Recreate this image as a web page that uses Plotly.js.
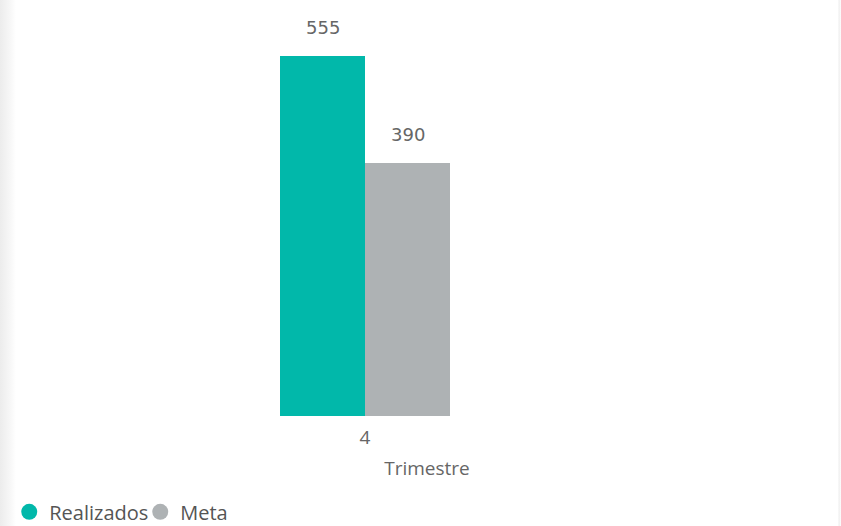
<!DOCTYPE html>
<html><head><meta charset="utf-8">
<script src="https://cdn.plot.ly/plotly-3.0.1.min.js"></script>
<style>
html,body{margin:0;padding:0;background:#fff;}
#wrap{position:relative;width:841px;height:526px;background:linear-gradient(to right,#ececec 0px,#f7f7f7 10px,#ffffff 16px,#ffffff 838px,#eeeeee 839px,#ffffff 841px);}
#chart{width:841px;height:526px;}
</style></head>
<body><div id="wrap"><div id="chart"></div></div>
<script>
const categories = ['4'];
const realizados = [555];
const meta = [390];
const seriesNames = ['Realizados', 'Meta'];
const colors = ['#01B8AA', '#AEB2B4'];

const traces = [
  {type:'bar', x:categories, y:realizados, name:seriesNames[0], marker:{color:colors[0]}, showlegend:false, hoverinfo:'none'},
  {type:'bar', x:categories, y:meta, name:seriesNames[1], marker:{color:colors[1]}, showlegend:false, hoverinfo:'none'},
  {type:'scatter', mode:'markers', x:[null], y:[null], name:seriesNames[0], marker:{color:colors[0], size:20, symbol:'circle', line:{width:0}}},
  {type:'scatter', mode:'markers', x:[null], y:[null], name:seriesNames[1], marker:{color:colors[1], size:20, symbol:'circle', line:{width:0}}}
];

const annotations = [realizados, meta].map((arr, i) => ({
  x: categories.indexOf(categories[0]), y: arr[0], text: String(arr[0]), showarrow:false,
  xshift: i === 0 ? -42.5 : 42.5, yanchor:'bottom', yshift:16,
  font:{family:'DejaVu Sans', size:18, color:'#666666'}
}));

const layout = {
  width:841, height:526,
  margin:{l:16, r:3, t:0, b:110},
  paper_bgcolor:'rgba(0,0,0,0)', plot_bgcolor:'rgba(0,0,0,0)',
  barmode:'group', bargap:0.15, bargroupgap:0,
  xaxis:{type:'category', range:[-1.745, 2.365], showgrid:false, zeroline:false, showline:false, ticks:'', automargin:false,
    tickfont:{family:'Open Sans', size:19, color:'#666666'}, ticklabelstandoff:8,
    title:{text:'Trimestre', font:{family:'Open Sans', size:19, color:'#666666'}, standoff:12}},
  yaxis:{range:[0, 641.4], visible:false, showgrid:false, zeroline:false},
  showlegend:true,
  legend:{orientation:'h', xref:'container', yref:'container', x:0.011, xanchor:'left', y:0.027, yanchor:'middle',
    font:{family:'Open Sans', size:20, color:'#555555'}, itemwidth:30, entrywidth:86, entrywidthmode:'pixels', tracegroupgap:0, bgcolor:'rgba(0,0,0,0)'},
  annotations: annotations,
  font:{family:'Open Sans'}
};
Plotly.newPlot('chart', traces, layout, {displayModeBar:false, staticPlot:true});
</script></body></html>
